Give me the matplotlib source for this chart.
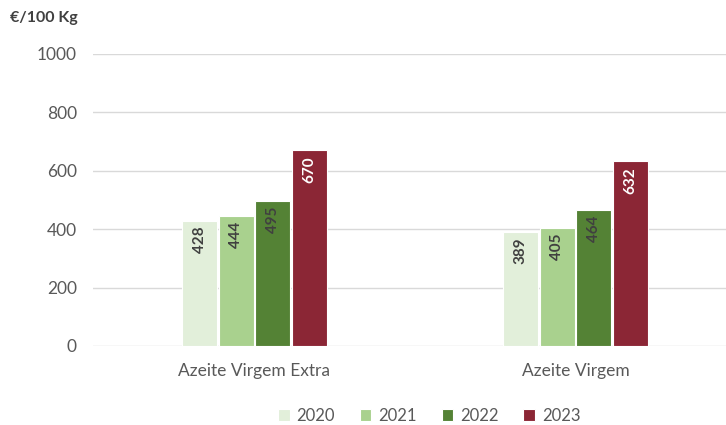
import matplotlib.pyplot as plt
import numpy as np

plt.rcParams["font.family"] = ["Lato", "DejaVu Sans"]

categories = ["Azeite Virgem Extra", "Azeite Virgem"]
years = ["2020", "2021", "2022", "2023"]
values = {
    "2020": [428, 389],
    "2021": [444, 405],
    "2022": [495, 464],
    "2023": [670, 632],
}
colors = ["#e2efda", "#a9d18e", "#548235", "#8b2635"]
label_colors = ["#404040", "#404040", "#404040", "white"]

fig = plt.figure(figsize=(7.26, 4.25), dpi=100)
ax = fig.add_axes([0.128, 0.186, 0.872, 0.687])

x = np.arange(len(categories))
width = 0.109
step = 0.1135
for i, year in enumerate(years):
    pos = x + (i - 1.5) * step
    bars = ax.bar(pos, values[year], width, color=colors[i], edgecolor="white",
                  linewidth=0.8, label=year, zorder=3)
    for b, v in zip(bars, values[year]):
        ax.annotate(str(v), (b.get_x() + b.get_width() / 2, v), xytext=(0, -4),
                    textcoords="offset points", rotation=90, ha="center", va="top",
                    fontsize=11, fontweight="bold", color=label_colors[i], zorder=4)

ax.set_xlim(-0.503, 1.469)
ax.set_ylim(0, 1000)
ax.set_yticks(np.arange(0, 1001, 200))
ax.set_xticks(x)
ax.set_xticklabels(categories)
ax.yaxis.grid(True, color="#d9d9d9", linewidth=1, zorder=0)
for s in ax.spines.values():
    s.set_visible(False)
ax.tick_params(axis="both", length=0, labelsize=12.5, colors="#595959")
ax.tick_params(axis="y", pad=11.5)
ax.tick_params(axis="x", pad=12)

fig.text(0.014, 0.958, "€/100 Kg", fontsize=11.5, fontweight="bold", color="#404040",
         ha="left", va="center")

ax.legend(loc="center", bbox_to_anchor=(0.531, -0.24), ncol=4, frameon=False,
          fontsize=12, handlelength=0.7, handleheight=0.7, columnspacing=1.5,
          handletextpad=0.4, labelcolor="#595959")

fig.savefig("out.png", dpi=100)
